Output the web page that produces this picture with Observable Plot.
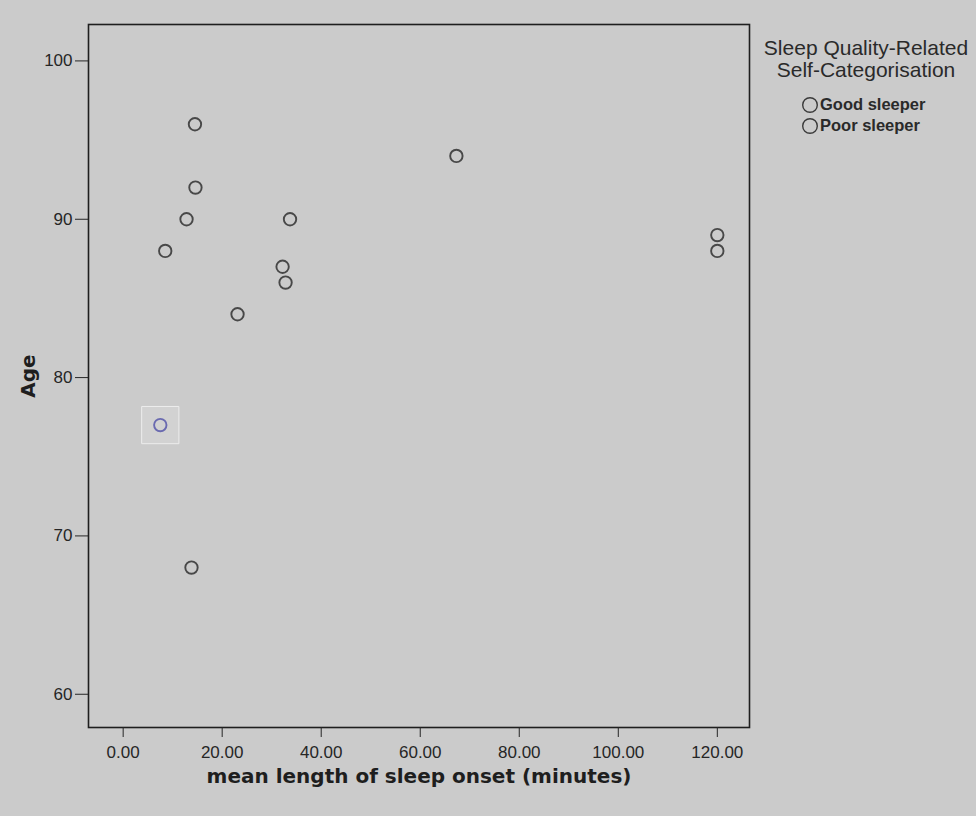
<!DOCTYPE html>
<html><head><meta charset="utf-8">
<script src="https://cdn.jsdelivr.net/npm/d3@7"></script>
<script src="https://cdn.jsdelivr.net/npm/@observablehq/plot@0.6"></script>
<style>
html,body{margin:0;padding:0;background:#cbcbcb;}
#wrap{position:relative;width:976px;height:816px;overflow:hidden;background:#cbcbcb;}
#wrap svg{display:block;}
#legend{position:absolute;left:756px;top:37px;width:220px;font-family:"Liberation Sans",Arial,sans-serif;color:#2a2a2a;}
#legend .title{text-align:center;font-size:21px;line-height:22px;}
#legend .rows{margin-top:13px;}
#legend .row{position:relative;height:21px;font-size:16.5px;font-weight:bold;line-height:21px;}
#legend .row svg{position:absolute;left:45px;top:2px;}
#legend .row span{position:absolute;left:64px;top:0;}
</style></head><body><div id="wrap"></div>
<script>
// ---- data ----
const onset = [14.5, 14.6, 12.8, 33.7, 8.5, 32.2, 32.8, 23.1, 7.5, 13.8, 67.3, 120, 120];
const age   = [96,   92,   90,   90,   88,  87,   86,   84,   77,  68,   94,   89,  88];
const group = ["Good sleeper","Good sleeper","Good sleeper","Good sleeper","Good sleeper","Good sleeper","Good sleeper","Good sleeper","Poor sleeper","Good sleeper","Good sleeper","Good sleeper","Good sleeper"];
const groups = ["Good sleeper", "Poor sleeper"];
const xTicks = [0, 20, 40, 60, 80, 100, 120];
const yTicks = [60, 70, 80, 90, 100];
const xTitle = "mean length of sleep onset (minutes)";
const yTitle = "Age";
const legendTitle = ["Sleep Quality-Related", "Self-Categorisation"];

const data = onset.map((v, i) => ({onset: v, age: age[i], group: group[i]}));
const colors = ["#484848", "#6a6ab0"];

const chart = Plot.plot({
  width: 976,
  height: 816,
  marginLeft: 88,
  marginTop: 24,
  marginRight: 227,
  marginBottom: 89,
  style: {background: "#cbcbcb", color: "#262626", fontFamily: "'Liberation Sans', Arial, sans-serif"},
  x: {domain: [-7, 126.5], label: null},
  y: {domain: [57.9, 102.3], label: null},
  color: {domain: groups, range: colors},
  marks: [
    Plot.dot(data.filter(d => d.group === "Poor sleeper"), {x: "onset", y: "age", symbol: "square", r: 21, fill: "#d2d2d2", stroke: "#ededed", strokeWidth: 1}),
    Plot.frame({stroke: "#1e1e1e", strokeWidth: 1.6}),
    Plot.axisX({ticks: xTicks, tickFormat: d => d.toFixed(2), tickSize: 10, tickPadding: 8, fontSize: 17, label: null}),
    Plot.axisY({ticks: yTicks, tickSize: 13, tickPadding: 3, fontSize: 17, label: null}),
    Plot.dot(data, {x: "onset", y: "age", stroke: "group", r: 6.2, strokeWidth: 1.9}),
    Plot.text([xTitle], {text: d => d, frameAnchor: "bottom", lineAnchor: "middle", textAnchor: "middle", dy: 49, fontSize: 20, fontWeight: "bold", fontFamily: "DejaVu Sans", fill: "#1e1e1e"}),
    Plot.text([yTitle], {text: d => d, frameAnchor: "left", lineAnchor: "middle", textAnchor: "middle", dx: -60, rotate: -90, fontSize: 20, fontWeight: "bold", fontFamily: "DejaVu Sans", fill: "#1e1e1e"})
  ]
});
const wrap = document.getElementById("wrap");
wrap.appendChild(chart);

// legend
const lg = document.createElement("div");
lg.id = "legend";
const t = document.createElement("div");
t.className = "title";
t.innerHTML = legendTitle.join("<br>");
lg.appendChild(t);
const rows = document.createElement("div");
rows.className = "rows";
groups.forEach((g, i) => {
  const r = document.createElement("div");
  r.className = "row";
  r.innerHTML = `<svg width="18" height="18"><circle cx="9" cy="9" r="7.3" fill="none" stroke="#3a3a3a" stroke-width="1.4"/></svg><span>${g}</span>`;
  rows.appendChild(r);
});
lg.appendChild(rows);
wrap.appendChild(lg);
</script>
</body></html>
